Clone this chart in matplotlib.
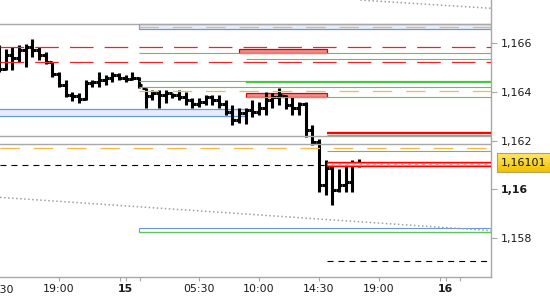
import matplotlib
matplotlib.use("Agg")
import matplotlib.pyplot as plt
from matplotlib.patches import Rectangle
import numpy as np

plt.rcParams['font.family'] = ['DejaVu Sans']
plt.rcParams['lines.scale_dashes'] = False

# ---------------- data ----------------
# 30-minute bars, hours since day 14 00:00 (first bar 14:30)
bar_hours = [14.5 + 0.5 * i for i in range(55)]
opens = [1.16531, 1.16494, 1.16552, 1.16540, 1.16572, 1.16585, 1.16572, 1.16552, 1.16523, 1.16474,
         1.16428, 1.16387, 1.16383, 1.16371, 1.16437, 1.16441, 1.16449, 1.16457, 1.16470, 1.16457,
         1.16453, 1.16457, 1.16416, 1.16383, 1.16395, 1.16387, 1.16395, 1.16387, 1.16379, 1.16367,
         1.16350, 1.16358, 1.16379, 1.16367, 1.16350, 1.16317, 1.16284, 1.16313, 1.16326, 1.16317,
         1.16334, 1.16367, 1.16379, 1.16383, 1.16346, 1.16334, 1.16350, 1.16243, 1.16194, 1.16017,
         1.16087, 1.15996, 1.16017, 1.16029, 1.16107]
highs = [1.16593, 1.16577, 1.16585, 1.16593, 1.16597, 1.16618, 1.16585, 1.16564, 1.16523, 1.16482,
         1.16449, 1.16400, 1.16395, 1.16449, 1.16449, 1.16482, 1.16470, 1.16482, 1.16478, 1.16470,
         1.16482, 1.16461, 1.16416, 1.16408, 1.16408, 1.16408, 1.16395, 1.16408, 1.16400, 1.16375,
         1.16375, 1.16387, 1.16387, 1.16387, 1.16367, 1.16346, 1.16334, 1.16334, 1.16367, 1.16358,
         1.16400, 1.16395, 1.16416, 1.16387, 1.16379, 1.16358, 1.16358, 1.16264, 1.16206, 1.16120,
         1.16099, 1.16083, 1.16103, 1.16120, 1.16124]
lows = [1.16482, 1.16490, 1.16490, 1.16523, 1.16502, 1.16544, 1.16531, 1.16515, 1.16461, 1.16420,
        1.16379, 1.16363, 1.16354, 1.16367, 1.16420, 1.16420, 1.16428, 1.16441, 1.16449, 1.16441,
        1.16449, 1.16416, 1.16334, 1.16367, 1.16334, 1.16354, 1.16375, 1.16367, 1.16346, 1.16334,
        1.16338, 1.16346, 1.16346, 1.16334, 1.16305, 1.16264, 1.16272, 1.16268, 1.16297, 1.16305,
        1.16305, 1.16334, 1.16346, 1.16330, 1.16305, 1.16305, 1.16214, 1.16182, 1.15988, 1.15976,
        1.15934, 1.15988, 1.15988, 1.15988, 1.16091]
closes = [1.16494, 1.16552, 1.16540, 1.16572, 1.16585, 1.16572, 1.16552, 1.16523, 1.16474, 1.16428,
          1.16387, 1.16383, 1.16371, 1.16437, 1.16441, 1.16449, 1.16457, 1.16470, 1.16457, 1.16453,
          1.16457, 1.16428, 1.16383, 1.16395, 1.16387, 1.16395, 1.16387, 1.16379, 1.16367, 1.16350,
          1.16358, 1.16379, 1.16367, 1.16350, 1.16317, 1.16284, 1.16313, 1.16326, 1.16317, 1.16334,
          1.16367, 1.16379, 1.16387, 1.16346, 1.16334, 1.16350, 1.16243, 1.16194, 1.16017, 1.16087,
          1.15996, 1.16017, 1.16029, 1.16107, 1.16101]

current_price = 1.16101
ytick_values = [1.158, 1.160, 1.162, 1.164, 1.166]
ytick_labels = ["1,158", "1,16", "1,162", "1,164", "1,166"]
xtick_hours = [19.0, 24.0, 29.5, 34.0, 38.5, 43.0, 48.0]
xtick_labels = ["19:00", "15", "05:30", "10:00", "14:30", "19:00", "16"]
xminor_hours = [23.6, 25.07, 47.6, 49.05]

# key levels
gray_levels = [1.16678, 1.16217, 1.16184]
red_dash_levels = [1.16584, 1.16523]
orange_full_level = 1.16169
top_box = (1.16658, 1.16678)
top_box_orange = 1.16667
left_blue_box = (1.16301, 1.16330)
red_box_1 = (1.16559, 1.16575)
red_box_2 = (1.16379, 1.16395)
green_from_night = [1.16560, 1.16419]
green_thin_mid = 1.16445
green_thick = 1.16442
green_from_morning = [1.16534, 1.16379]
orange_night = 1.16404
red_thick = 1.16232
green_under_red = 1.16224
green_afternoon = 1.16157
current_box = (1.16097, 1.16113)
low_box = (1.15823, 1.15841)
black_low = 1.15705
channel_low = ([14.575, 51.4], [1.15966, 1.15829])
channel_up = ([41.6, 51.4], [1.16778, 1.16744])

# ---------------- figure ----------------
W, H = 550, 300
fig = plt.figure(figsize=(5.5, 3.0), dpi=100)
ax = fig.add_axes([0, 23 / H, 491 / W, 277 / H])
X0, X1 = 14.575, 51.4
ax.set_xlim(X0, X1)
ax.set_ylim(1.156383, 1.167782)

T_NIGHT, T_MORN, T_AFT = 25.0, 33.0, 39.1
T_RB = 32.5

GRAY = '#a8a8a8'
RED = '#e8262a'
GREEN = '#5cc65c'
ORANGE = '#f5b945'
BLUE = '#6a96e8'
BLUEFILL = '#e6edfb'
SALMON = '#f48a8a'

red_dash = (0, (17, 8))
org_dash = (0, (14, 10))
blk_dash = (0, (4.3, 3.6))

# boxes
ax.add_patch(Rectangle((T_NIGHT, top_box[0]), X1 + 1 - T_NIGHT, top_box[1] - top_box[0],
                       facecolor=BLUEFILL, edgecolor=BLUE, lw=0.9, zorder=2))
ax.add_patch(Rectangle((X0 - 1, left_blue_box[0]), T_MORN - X0 + 1, left_blue_box[1] - left_blue_box[0],
                       facecolor=BLUEFILL, edgecolor=BLUE, lw=0.9, zorder=2))
for rb in (red_box_1, red_box_2):
    ax.add_patch(Rectangle((T_RB if rb is red_box_1 else T_MORN, rb[0]),
                           T_AFT - (T_RB if rb is red_box_1 else T_MORN), rb[1] - rb[0],
                           facecolor=SALMON, edgecolor='#e00000', lw=0.9, zorder=2))
ax.add_patch(Rectangle((T_NIGHT, low_box[0]), X1 + 1 - T_NIGHT, low_box[1] - low_box[0],
                       facecolor='none', edgecolor=BLUE, lw=0.8, zorder=2))

# lines
for g in gray_levels:
    ax.axhline(g, color=GRAY, lw=1.0, zorder=4)
for r in red_dash_levels:
    ax.axhline(r, color=RED, lw=0.9, ls=red_dash, zorder=4)
ax.axhline(orange_full_level, color=ORANGE, lw=0.9, ls=org_dash, zorder=4)
ax.hlines(top_box_orange, T_NIGHT, X1, color=ORANGE, lw=0.9, ls=org_dash, zorder=4)
ax.hlines(orange_night, T_NIGHT, X1, color=ORANGE, lw=0.9, ls=org_dash, zorder=4)
ax.hlines(green_from_night, T_NIGHT, X1, color=GREEN, lw=0.8, zorder=4)
ax.hlines(green_thin_mid, T_NIGHT, T_MORN, color=GREEN, lw=0.8, zorder=4)
ax.hlines(green_thick, T_MORN, X1, color='#44c844', lw=1.6, zorder=4)
ax.hlines(green_from_morning, T_MORN, X1, color=GREEN, lw=0.8, zorder=4)
ax.hlines(red_thick, T_AFT, X1, color='#ff0000', lw=1.7, zorder=4)
ax.hlines(green_under_red, T_AFT, X1, color=GREEN, lw=0.8, zorder=4)
ax.hlines(green_afternoon, T_AFT, X1, color=GREEN, lw=0.8, zorder=4)
ax.hlines(low_box[0], T_NIGHT, X1, color=GREEN, lw=0.9, zorder=4)
ax.hlines(current_price, X0, T_AFT, color='black', lw=0.8, ls=blk_dash, zorder=4)
ax.add_patch(Rectangle((T_AFT, current_box[0]), X1 + 1 - T_AFT, current_box[1] - current_box[0],
                       facecolor='#ff9090', edgecolor='#ff0000', lw=1.0, zorder=4))
ax.hlines(current_price + 0.000015, T_AFT, X1, color='white', lw=0.6, ls=(0, (3, 2)), zorder=5)
ax.hlines(black_low, T_AFT, X1, color='black', lw=0.8, ls=blk_dash, zorder=4)

dots = (0, (1.1, 1.8))
ax.plot(*channel_low, color='#a0a0a0', lw=1.1, ls=dots, zorder=3)
ax.plot(*channel_up, color='#a0a0a0', lw=1.1, ls=dots, zorder=3, clip_on=True)

# OHLC bars
bh = np.array(bar_hours)
tw = 0.24
ax.vlines(bh, lows, highs, color='black', lw=2.2, zorder=3.5)
ax.hlines(opens, bh - tw, bh, color='black', lw=2.2, zorder=3.5)
ax.hlines(closes, bh, bh + tw, color='black', lw=2.2, zorder=3.5)

# axes styling
for s in ('top', 'left'):
    ax.spines[s].set_visible(False)
for s in ('right', 'bottom'):
    ax.spines[s].set_color(GRAY)
    ax.spines[s].set_linewidth(1.0)
ax.set_facecolor('white')

ax.yaxis.tick_right()
ax.set_yticks(ytick_values)
ax.set_yticklabels(ytick_labels)
ax.tick_params(axis='y', length=4, width=0.8, color=GRAY, pad=3, labelsize=7.9, labelcolor='#1a1a1a')
for lbl in ax.get_yticklabels():
    if lbl.get_text() == "1,16":
        lbl.set_fontweight('bold')

ax.set_xticks(xtick_hours)
ax.set_xticklabels(xtick_labels)
ax.set_xticks(xminor_hours, minor=True)
ax.tick_params(axis='x', which='both', length=3, width=0.8, color=GRAY, pad=2, labelsize=7.9,
               labelcolor='#1a1a1a')
for lbl in ax.get_xticklabels():
    if lbl.get_text() in ("15", "16"):
        lbl.set_fontweight('bold')
# partially visible first label (14:30 of previous day)
ax.text(14.5, -0.028, "14:30", transform=ax.get_xaxis_transform(), ha='center', va='top',
        fontsize=7.9, color='#1a1a1a', clip_on=False)

# current price label with gradient
lab = fig.add_axes([496.5 / W, (H - 172) / H, 53.5 / W, 19 / H])
grad = np.linspace(0, 1, 50).reshape(-1, 1)
from matplotlib.colors import LinearSegmentedColormap
cm = LinearSegmentedColormap.from_list('gold', ['#ffe866', '#f2c200'])
lab.imshow(grad, aspect='auto', cmap=cm, extent=[0, 1, 0, 1], origin='upper')
lab.set_xticks([]); lab.set_yticks([])
for s in lab.spines.values():
    s.set_color('#b8a060'); s.set_linewidth(0.8)
lab.text(0.5, 0.45, "1,16101", ha='center', va='center', fontsize=7.9, color='#111111',
         transform=lab.transAxes)

fig.savefig('out.png', dpi=100)
